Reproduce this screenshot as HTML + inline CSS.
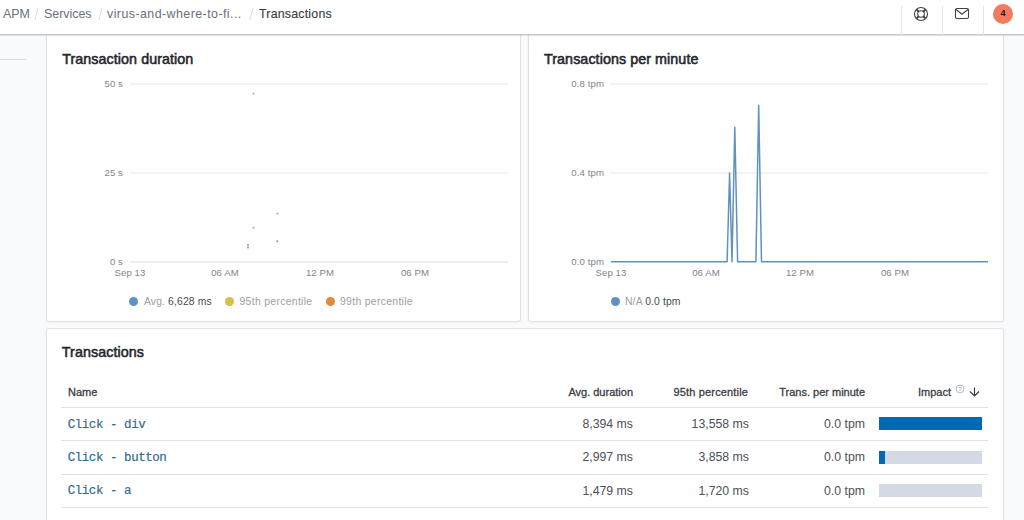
<!DOCTYPE html>
<html><head><meta charset="utf-8">
<style>
*{box-sizing:border-box;margin:0;padding:0}
html,body{width:1024px;height:520px;overflow:hidden;background:#F9FAFC;font-family:"Liberation Sans",Arial,sans-serif;color:#343741}
.abs{position:absolute;white-space:nowrap}
#hdr{position:absolute;left:0;top:0;width:1024px;height:35px;background:#fff;border-bottom:1px solid #C6C9CF;box-shadow:0 1px 0 rgba(120,125,135,.22);z-index:5}
.bc{position:absolute;top:0;height:28px;line-height:28px;font-size:12.4px;color:#69707D}
.sep{position:absolute;top:8px;width:1px;height:12px;background:#D6D8DC;transform:skewX(-15deg)}
.vd{position:absolute;top:6px;width:1px;height:29px;background:#E4E6EA}
.panel{position:absolute;background:#fff;border:1px solid #DFE0E4;border-radius:3px;box-shadow:0 1px 3px rgba(0,0,0,.04)}
.title{position:absolute;font-size:14.3px;font-weight:normal;letter-spacing:0.07px;-webkit-text-stroke:0.55px #25272d;color:#25272d;line-height:16px}
.ax{position:absolute;font-size:9.6px;letter-spacing:0.1px;color:#80848B;line-height:12px}
.lg{position:absolute;font-size:10.4px;letter-spacing:0.12px;color:#9A9EA5;line-height:14px}
.lg b{font-weight:normal;color:#4A4D54}
.dot{position:absolute;width:9px;height:9px;border-radius:50%}
.th{position:absolute;font-size:11px;font-weight:normal;-webkit-text-stroke:0.3px #3A3D44;color:#3A3D44;line-height:14px}
.td{position:absolute;font-size:12.3px;color:#4C4F57;line-height:16px;text-align:right}
.nm{position:absolute;font-family:"Liberation Mono",monospace;font-size:12.5px;letter-spacing:-0.45px;color:#366B93;-webkit-text-stroke:0.2px #366B93;line-height:16px}
.hl{position:absolute;height:1px;background:#DFE1E5}
.bar{position:absolute;height:13px;background:#D3DAE6}
.bar i{position:absolute;left:0;top:0;bottom:0;background:#006BB4}
</style></head>
<body>
<!-- left strip line -->
<div class="hl" style="left:0;top:59px;width:26px;background:#D9DBDF"></div>

<!-- panels -->
<div class="panel" style="left:46px;top:20px;width:475px;height:302px"></div>
<div class="panel" style="left:528px;top:20px;width:476px;height:302px"></div>
<div class="panel" style="left:46px;top:328px;width:958px;height:220px"></div>

<!-- header -->
<div id="hdr">
  <div class="bc" id="bc1" style="left:3px">APM</div>
  <div class="sep" style="left:36px"></div>
  <div class="bc" id="bc2" style="left:44px">Services</div>
  <div class="sep" style="left:100px"></div>
  <div class="bc" id="bc3" style="left:107px;letter-spacing:0.45px">virus-and-where-to-fi...</div>
  <div class="sep" style="left:251px"></div>
  <div class="bc" id="bc4" style="left:259px;color:#3A3D44;letter-spacing:0.2px;-webkit-text-stroke:0.12px #3A3D44">Transactions</div>
  <div class="vd" style="left:901px"></div>
  <div class="vd" style="left:942px"></div>
  <div class="vd" style="left:983px"></div>
  <svg class="abs" style="left:913px;top:6px" width="16" height="16" viewBox="0 0 16 16">
    <g fill="none" stroke="#3F4148" stroke-width="1.1">
      <circle cx="8" cy="8" r="6.5"/><circle cx="8" cy="8" r="3.3"/>
      <path d="M3.4 3.4L5.7 5.7M12.6 3.4L10.3 5.7M3.4 12.6L5.7 10.3M12.6 12.6L10.3 10.3" stroke-width="2"/>
    </g>
  </svg>
  <svg class="abs" style="left:954px;top:7px" width="16" height="13" viewBox="0 0 16 13">
    <g fill="none" stroke="#3F4148" stroke-width="1.1">
      <rect x="1.5" y="1.5" width="13" height="10" rx="1.5"/>
      <path d="M2 2.5L8 7.2L14 2.5"/>
    </g>
  </svg>
  <div class="abs" style="left:993px;top:3.5px;width:20px;height:20px;border-radius:50%;background:#F27A5E;color:#1a1c21;font-size:9px;font-weight:bold;line-height:19px;text-align:center">4</div>
</div>

<!-- Panel 1 -->
<div class="title" id="t1" style="left:62.2px;top:51.3px">Transaction duration</div>
<svg class="abs" style="left:0;top:0" width="1024" height="330">
  <g stroke="#E4E5E7" stroke-width="1">
    <line x1="130" y1="84" x2="508" y2="84"/>
    <line x1="130" y1="173" x2="508" y2="173"/>
    <line x1="610.5" y1="84" x2="988" y2="84"/>
    <line x1="610.5" y1="173" x2="988" y2="173"/>
  </g>
  <line x1="130" y1="262" x2="508" y2="262" stroke="#D9DBDE" stroke-width="1"/>
  <g fill="#B9AC62">
    <circle cx="253.5" cy="93.6" r="1"/>
    <circle cx="253.5" cy="227.8" r="1"/>
    <circle cx="277.4" cy="213.6" r="1"/>
  </g>
  <g fill="#A8907A">
    <circle cx="248" cy="247.6" r="1"/><circle cx="248" cy="245" r="0.9"/>
    <circle cx="277.4" cy="241.3" r="1"/>
  </g>
  <polyline fill="none" stroke="#6092C0" stroke-width="1.5" stroke-linejoin="round"
    points="611,261.8 727.1,261.8 729.6,173 732,261.8 734.8,127.3 737.6,261.8 755.9,261.8 758.7,105.4 761.5,261.8 988,261.8"/>
</svg>
<div class="ax" style="left:0;width:123px;text-align:right;top:78px">50 s</div>
<div class="ax" style="left:0;width:123px;text-align:right;top:167px">25 s</div>
<div class="ax" style="left:0;width:123px;text-align:right;top:256px">0 s</div>
<div class="ax" style="left:105px;width:50px;text-align:center;top:267px">Sep 13</div>
<div class="ax" style="left:200px;width:50px;text-align:center;top:267px">06 AM</div>
<div class="ax" style="left:295px;width:50px;text-align:center;top:267px">12 PM</div>
<div class="ax" style="left:390px;width:50px;text-align:center;top:267px">06 PM</div>
<div class="dot" style="left:129px;top:297px;background:#6092C0"></div>
<div class="lg" style="left:144px;top:294.5px">Avg. <b>6,628 ms</b></div>
<div class="dot" style="left:225px;top:297px;background:#D8BE45"></div>
<div class="lg" style="left:239.5px;top:294.5px;letter-spacing:0.32px">95th percentile</div>
<div class="dot" style="left:325.6px;top:297px;background:#E08A3E"></div>
<div class="lg" style="left:340px;top:294.5px;letter-spacing:0.32px">99th percentile</div>

<!-- Panel 2 -->
<div class="title" id="t2" style="left:544px;top:51.3px">Transactions per minute</div>
<div class="ax" style="left:0;width:604px;text-align:right;top:78px">0.8 tpm</div>
<div class="ax" style="left:0;width:604px;text-align:right;top:167px">0.4 tpm</div>
<div class="ax" style="left:0;width:604px;text-align:right;top:256px">0.0 tpm</div>
<div class="ax" style="left:586px;width:50px;text-align:center;top:267px">Sep 13</div>
<div class="ax" style="left:681px;width:50px;text-align:center;top:267px">06 AM</div>
<div class="ax" style="left:775px;width:50px;text-align:center;top:267px">12 PM</div>
<div class="ax" style="left:870px;width:50px;text-align:center;top:267px">06 PM</div>
<div class="dot" style="left:611px;top:297px;background:#6092C0"></div>
<div class="lg" style="left:625px;top:294.5px">N/A <b>0.0 tpm</b></div>

<!-- Panel 3 -->
<div class="title" id="t3" style="left:61.8px;top:343.9px">Transactions</div>
<div class="th" style="left:68px;top:384.8px">Name</div>
<div class="th" style="left:533px;width:100px;text-align:right;top:384.8px">Avg. duration</div>
<div class="th" style="left:648px;width:100px;text-align:right;top:384.8px;letter-spacing:0.15px">95th percentile</div>
<div class="th" style="left:745px;width:120px;text-align:right;top:384.8px">Trans. per minute</div>
<div class="th" style="left:918px;top:384.8px">Impact</div>
<svg class="abs" style="left:954.5px;top:384.4px" width="10" height="10" viewBox="0 0 10 10"><circle cx="5" cy="5" r="3.9" fill="none" stroke="#A3A7AE" stroke-width=".8"/><text x="5" y="7.2" font-size="6" text-anchor="middle" fill="#A3A7AE" font-family="Liberation Sans">?</text></svg>
<svg class="abs" style="left:969px;top:386px" width="11" height="12" viewBox="0 0 11 12"><path d="M5.5 1.5V10M1 5.5L5.5 10L10 5.5" fill="none" stroke="#343741" stroke-width="1.1"/></svg>
<div class="hl" style="left:61px;top:407px;width:927px"></div>
<div class="hl" style="left:61px;top:440px;width:927px"></div>
<div class="hl" style="left:61px;top:474px;width:927px"></div>
<div class="hl" style="left:61px;top:507px;width:927px"></div>

<div class="nm" style="left:67.7px;top:416.8px">Click - div</div>
<div class="td" style="left:533px;width:100px;top:416px">8,394 ms</div>
<div class="td" style="left:649px;width:100px;top:416px">13,558 ms</div>
<div class="td" style="left:765px;width:100px;top:416px">0.0 tpm</div>
<div class="bar" style="left:879px;top:417px;width:103px"><i style="width:103px"></i></div>

<div class="nm" style="left:67.7px;top:450.1px">Click - button</div>
<div class="td" style="left:533px;width:100px;top:449px">2,997 ms</div>
<div class="td" style="left:649px;width:100px;top:449px">3,858 ms</div>
<div class="td" style="left:765px;width:100px;top:449px">0.0 tpm</div>
<div class="bar" style="left:879px;top:451px;width:103px"><i style="width:6px"></i></div>

<div class="nm" style="left:67.7px;top:483.4px">Click - a</div>
<div class="td" style="left:533px;width:100px;top:482.7px">1,479 ms</div>
<div class="td" style="left:649px;width:100px;top:482.7px">1,720 ms</div>
<div class="td" style="left:765px;width:100px;top:482.7px">0.0 tpm</div>
<div class="bar" style="left:879px;top:484px;width:103px"></div>
</body></html>
